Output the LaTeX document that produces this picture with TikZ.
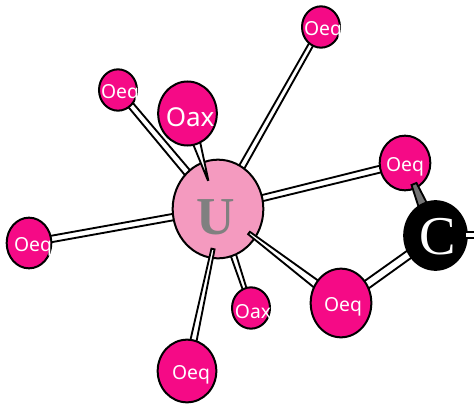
\documentclass[tikz,border=0pt]{standalone}
\usepackage{fontspec}
\setmainfont{Liberation Serif}
\newfontfamily\atomfont{Noto Sans}
\usetikzlibrary{calc,shapes.geometric}
\definecolor{oxpink}{HTML}{F50A86}
\definecolor{upink}{HTML}{F49ABF}
\tikzset{
	atom/.style={draw=black, line width=1.5pt, ellipse, inner sep=0pt},
	bondline/.style={draw=black, line width=1.4pt, line join=miter},
	oxbig/.style={text=white, xshift=2pt, yshift=-3pt, font=\atomfont\fontsize{19.5}{19.5}\selectfont},
	oxsmall/.style={text=white, xshift=1.5pt, yshift=-2.5pt, font=\atomfont\fontsize{14.5}{14.5}\selectfont}
}
% tapered bond: fill, from, to, half width at from, half width at to
\newcommand{\bond}[5][white]{
	\draw[bondline, fill=#1] ($(#2)!#4!90:(#3)$)--($(#2)!#4!-90:(#3)$)--($(#3)!#5!90:(#2)$)--($(#3)!#5!-90:(#2)$)--cycle;
}
\begin{document}
\begin{tikzpicture}[x=0.75pt, y=-0.75pt]
	\useasboundingbox (0,0) rectangle (474,406);
	\clip (0,0) rectangle (474,406);
	% centres
	\node (nU) at (218,209) {};
	\node (nC) at (435.5,235.5) {};
	\node (nOaxA) at (187.5,113.5) {}; % top
	\node (nOaxB) at (251,308) {}; % lower
	\node (nOeqA) at (321,27) {};
	\node (nOeqB) at (118,90) {};
	\node (nOeqC) at (405,163) {};
	\node (nOeqD) at (341,303) {};
	\node (nOeqE) at (187,371) {};
	\node (nOeqF) at (29,243) {};
	% free ends of the bonds
	\coordinate (tipOaxA) at (208,180);
	\coordinate (tipOeqD) at (249,233);
	\coordinate (tipOeqE) at (213,249);
	\coordinate (tipOeqC) at (414,184);
	\coordinate (tipC) at (465,235);
	\coordinate (endC) at (480,235);

	% DRAW BONDS BEHIND U
	\bond{nU}{nOeqA}{2.4pt}{1.7pt}
	\bond{nU}{nOeqB}{2.8pt}{2.2pt}
	\bond{nU}{nOeqC}{2.2pt}{2.6pt}
	\bond{nU}{nOeqF}{2.4pt}{2.4pt}
	\bond{nU}{nOaxB}{2.8pt}{1.2pt}

	% DRAW U
	\node[atom, fill=upink, minimum width=68pt, minimum height=74pt, label={[text=black!50, xshift=-1.5pt, yshift=-6pt, font=\bfseries\fontsize{40}{40}\selectfont]center:U}] (atomU) at (nU) {};

	% DRAW BONDS OVER U
	\bond{tipOaxA}{nOaxA}{0.2pt}{4.8pt}
	\bond{tipOeqD}{nOeqD}{1.1pt}{3.7pt}
	\bond{tipOeqE}{nOeqE}{1.2pt}{2.7pt}
	\bond{nC}{nOeqD}{3pt}{3.2pt}

	% DRAW OXYGENS
	\node[atom, fill=oxpink, minimum width=44pt, minimum height=48pt, label={[oxbig]center:Oax}] (atomOaxA) at (nOaxA) {};
	\node[atom, fill=oxpink, minimum width=28.5pt, minimum height=31pt, label={[oxsmall]center:Oax}] (atomOaxB) at (nOaxB) {};
	\node[atom, fill=oxpink, minimum width=28.5pt, minimum height=31pt, label={[oxsmall]center:Oeq}] (atomOeqA) at (nOeqA) {};
	\node[atom, fill=oxpink, minimum width=28.5pt, minimum height=31pt, label={[oxsmall]center:Oeq}] (atomOeqB) at (nOeqB) {};
	\node[atom, fill=oxpink, minimum width=38pt, minimum height=41pt, label={[oxsmall, xshift=-1.5pt]center:Oeq}] (atomOeqC) at (nOeqC) {};
	\node[atom, fill=oxpink, minimum width=45.5pt, minimum height=51.5pt, label={[oxsmall]center:Oeq}] (atomOeqD) at (nOeqD) {};
	\node[atom, fill=oxpink, minimum width=44pt, minimum height=47pt, label={[oxsmall, xshift=1.5pt]center:Oeq}] (atomOeqE) at (nOeqE) {};
	\node[atom, fill=oxpink, minimum width=33.5pt, minimum height=38pt, label={[oxsmall, xshift=1.5pt]center:Oeq}] (atomOeqF) at (nOeqF) {};

	% DRAW C
	\bond[black!55]{tipOeqC}{nC}{2pt}{5.5pt}
	\node[atom, fill=black, minimum width=47pt, minimum height=51.5pt, label={[text=white, xshift=2pt, yshift=-1pt, font=\fontsize{41}{41}\selectfont]center:C}] (atomC) at (nC) {};
	\bond{tipC}{endC}{2.4pt}{2.4pt}
\end{tikzpicture}
\end{document}
